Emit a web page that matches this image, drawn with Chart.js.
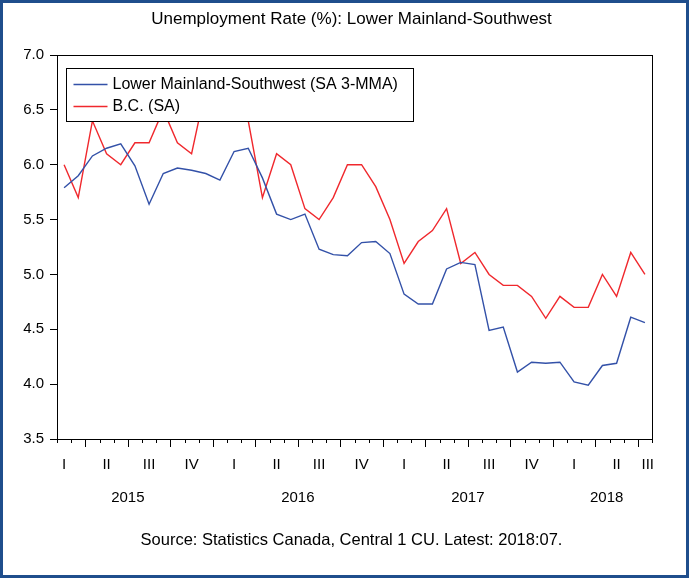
<!DOCTYPE html>
<html>
<head>
<meta charset="utf-8">
<script src="https://cdn.jsdelivr.net/npm/chart.js@4.4.0/dist/chart.umd.min.js"></script>
<style>
  html, body { margin: 0; padding: 0; background: #fff; }
</style>
</head>
<body>
<canvas id="chart" width="691" height="579"></canvas>
<script>
// monthly, Feb 2015 .. Jul 2018
const lowerMainland = [5.79, 5.90, 6.08, 6.15, 6.19, 5.99, 5.64, 5.92, 5.97, 5.95, 5.92,
  5.86, 6.12, 6.15, 5.88, 5.55, 5.50, 5.55, 5.23, 5.18, 5.17, 5.29, 5.30,
  5.19, 4.82, 4.73, 4.73, 5.05, 5.11, 5.09, 4.49, 4.52, 4.11, 4.20, 4.19,
  4.20, 4.02, 3.99, 4.17, 4.19, 4.61, 4.56];
const bcRate = [6.0, 5.7, 6.4, 6.1, 6.0, 6.2, 6.2, 6.5, 6.2, 6.1, 6.7,
  6.8, 6.6, 6.4, 5.7, 6.1, 6.0, 5.6, 5.5, 5.7, 6.0, 6.0, 5.8,
  5.5, 5.1, 5.3, 5.4, 5.6, 5.1, 5.2, 5.0, 4.9, 4.9, 4.8, 4.6,
  4.8, 4.7, 4.7, 5.0, 4.8, 5.2, 5.0];
const quarterLabels = ["I", "II", "III", "IV", "I", "II", "III", "IV", "I", "II", "III", "IV", "I", "II", "III"];
const yearLabels = ["2015", "2016", "2017", "2018"];
const seriesNames = ["Lower Mainland-Southwest (SA 3-MMA)", "B.C. (SA)"];

const nMonths = lowerMainland.length;
const FONT = "'Liberation Sans', Arial, sans-serif";

// first month shown is February, so January sits at -1
const quarterPos = quarterLabels.map((_, k) => Math.min(3 * k + 0.5, nMonths - 0.3));
const yearPos = yearLabels.map((_, k) => {
  const start = 12 * k - 1, end = start + 12;
  return end > nMonths ? (start + nMonths) / 2 + 0.3 : start + 6;
});

const toPoints = (arr) => arr.map((v, i) => ({ x: i + 0.5, y: v }));

const framePlugin = {
  id: "frame",
  beforeDraw(chart) {
    const ctx = chart.ctx;
    ctx.save();
    ctx.fillStyle = "#fff";
    ctx.fillRect(0, 0, chart.width, chart.height);
    ctx.strokeStyle = "#1f4e8c";
    ctx.lineWidth = 3;
    ctx.strokeRect(1.5, 1.5, chart.width - 5, chart.height - 4);
    ctx.restore();
  },
  afterDatasetsDraw(chart) {
    const { ctx, chartArea: a } = chart;
    const xs = chart.scales.x;
    ctx.save();
    // plot frame
    ctx.strokeStyle = "#000";
    ctx.lineWidth = 1;
    ctx.strokeRect(Math.round(a.left) + 0.5, Math.round(a.top) + 0.5,
      Math.round(a.right - a.left), Math.round(a.bottom - a.top));
    // month ticks, longer at quarter starts
    ctx.beginPath();
    for (let m = 0; m <= nMonths; m++) {
      const px = Math.round(xs.getPixelForValue(m)) + 0.5;
      const len = (m % 3 === 2) ? 8 : 4;
      ctx.moveTo(px, a.bottom);
      ctx.lineTo(px, a.bottom + len);
    }
    ctx.stroke();

    // legend
    const bx = Math.round(a.left) + 9.5, by = Math.round(a.top) + 13.5;
    const bw = 347, bh = 53;
    ctx.fillStyle = "#fff";
    ctx.fillRect(bx, by, bw, bh);
    ctx.strokeStyle = "#000";
    ctx.strokeRect(bx, by, bw, bh);
    ctx.font = "16px " + FONT;
    ctx.textBaseline = "middle";
    chart.data.datasets.forEach((ds, i) => {
      const cy = by + 16 + i * 22;
      ctx.strokeStyle = ds.borderColor;
      ctx.lineWidth = 1.3;
      ctx.beginPath();
      ctx.moveTo(bx + 7, cy);
      ctx.lineTo(bx + 41, cy);
      ctx.stroke();
      ctx.fillStyle = "#000";
      ctx.fillText(ds.label, bx + 46, cy);
    });
    ctx.restore();
  }
};

new Chart(document.getElementById("chart"), {
  type: "line",
  data: {
    datasets: [
      {
        label: seriesNames[0],
        data: toPoints(lowerMainland),
        borderColor: "#3351a8",
        borderWidth: 1.4,
        pointRadius: 0,
        tension: 0
      },
      {
        label: seriesNames[1],
        data: toPoints(bcRate),
        borderColor: "#f0282d",
        borderWidth: 1.4,
        pointRadius: 0,
        tension: 0
      }
    ]
  },
  options: {
    responsive: false,
    animation: false,
    layout: { padding: { left: 12, right: 0, top: 0, bottom: 0 } },
    plugins: {
      legend: { display: false },
      tooltip: { enabled: false },
      title: {
        display: true,
        text: "Unemployment Rate (%): Lower Mainland-Southwest",
        color: "#000",
        font: { family: FONT, size: 17, weight: "normal" },
        padding: { top: 9, bottom: 25.6 }
      },
      subtitle: {
        display: true,
        position: "bottom",
        text: "Source: Statistics Canada, Central 1 CU. Latest: 2018:07.",
        color: "#000",
        font: { family: FONT, size: 16.5, weight: "normal" },
        padding: { top: 22, bottom: 28.2 }
      }
    },
    scales: {
      x: {
        type: "linear",
        position: "bottom",
        min: 0,
        max: nMonths,
        weight: 0,
        grid: { display: false, drawTicks: false },
        border: { display: false },
        afterBuildTicks: (scale) => {
          scale.ticks = quarterPos.map((v) => ({ value: v }));
        },
        afterFit: (scale) => { scale.height = 30; },
        ticks: {
          autoSkip: false,
          maxRotation: 0,
          padding: 17,
          color: "#000",
          font: { family: FONT, size: 15 },
          callback: (v, i) => quarterLabels[i]
        }
      },
      yr: {
        type: "linear",
        position: "bottom",
        min: 0,
        max: nMonths,
        weight: 1,
        grid: { display: false, drawTicks: false },
        border: { display: false },
        afterBuildTicks: (scale) => {
          scale.ticks = yearPos.map((v) => ({ value: v }));
        },
        afterFit: (scale) => { scale.height = 40; },
        ticks: {
          autoSkip: false,
          maxRotation: 0,
          padding: 20,
          color: "#000",
          font: { family: FONT, size: 15 },
          callback: (v, i) => yearLabels[i]
        }
      },
      y: {
        min: 3.5,
        max: 7.0,
        grid: { drawOnChartArea: false, tickLength: 7, color: "#000" },
        border: { display: false },
        afterFit: (scale) => { scale.width = 45; },
        ticks: {
          stepSize: 0.5,
          padding: 6,
          color: "#000",
          font: { family: FONT, size: 15 },
          callback: (v) => v.toFixed(1)
        }
      },
      // empty right-hand axis, keeps the right margin free
      spacer: {
        type: "linear",
        position: "right",
        grid: { display: false, drawTicks: false },
        border: { display: false },
        ticks: { display: false },
        afterFit: (scale) => { scale.width = 39; }
      }
    }
  },
  plugins: [framePlugin]
});
</script>
</body>
</html>
